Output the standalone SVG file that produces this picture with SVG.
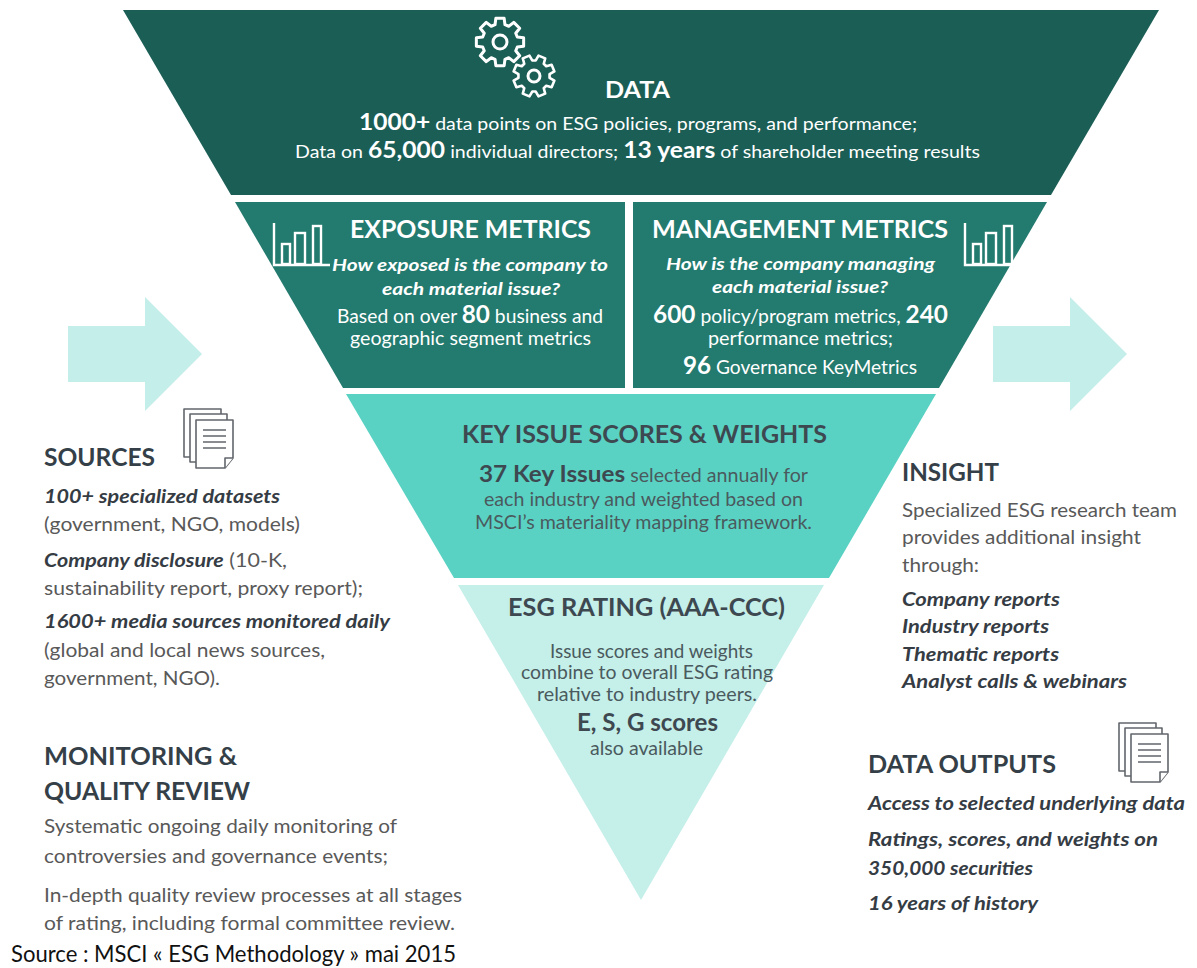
<svg xmlns="http://www.w3.org/2000/svg" xmlns:xlink="http://www.w3.org/1999/xlink" width="1197" height="968" viewBox="0 0 1197 968">
<style>
text{font-family:Lato,"Open Sans","Liberation Sans",sans-serif}
.w{fill:#ffffff}
.b{font-weight:700}
.bi{font-weight:700;font-style:italic}
.hd{font-weight:700;font-size:24px;fill:#353f48}
.bd{font-size:19.5px;fill:#595959}
.bx{font-size:19.5px;font-weight:700;font-style:italic;fill:#353c44}
.kt{fill:#3d4850}
.kb{fill:#4a5a5e;font-size:19px}
.ic{fill:none;stroke:#ffffff;stroke-width:2.4}
.pg{fill:#ffffff;stroke:#62666b;stroke-width:1.6;stroke-linejoin:round}
.pl{stroke:#62666b;stroke-width:1.6}
.arrow{fill:#c4eee9}
</style>
<defs>
<path id="gear" d="M17.30,-4.96 L23.64,-4.17 L23.64,4.17 L17.30,4.96 L15.74,8.73 L19.66,13.77 L13.77,19.66 L8.73,15.74 L4.96,17.30 L4.17,23.64 L-4.17,23.64 L-4.96,17.30 L-8.73,15.74 L-13.77,19.66 L-19.66,13.77 L-15.74,8.73 L-17.30,4.96 L-23.64,4.17 L-23.64,-4.17 L-17.30,-4.96 L-15.74,-8.73 L-19.66,-13.77 L-13.77,-19.66 L-8.73,-15.74 L-4.96,-17.30 L-4.17,-23.64 L4.17,-23.64 L4.96,-17.30 L8.73,-15.74 L13.77,-19.66 L19.66,-13.77 L15.74,-8.73 Z"/>
<g id="bars">
<path class="ic" d="M0,0 V42 H56"/>
<rect class="ic" x="8" y="21" width="8" height="20"/>
<rect class="ic" x="21" y="10" width="10" height="31"/>
<rect class="ic" x="39" y="3" width="8" height="38"/>
</g>
<g id="doc">
<rect class="pg" x="1" y="1" width="37" height="48"/>
<rect class="pg" x="7" y="6" width="37" height="48"/>
<path class="pg" d="M13,12 H50 V50 L42,60 H13 Z"/>
<path class="pg" d="M50,50 H42 V60"/>
<path class="pl" d="M20,22 H43 M20,28 H43 M20,34 H43 M20,40 H43"/>
</g>
</defs>
<rect width="1197" height="968" fill="#ffffff"/>

<g id="connectors">
<polygon class="arrow" points="68,326 145,326 145,297 202,354 145,411 145,382 68,382"/>
<polygon class="arrow" points="993,326 1070,326 1070,297 1127,354 1070,411 1070,382 993,382"/>
</g>

<g id="node-data">
<polygon points="123,10 1159,10 1051,195 231,195" fill="#1b5e55"/>
<g fill="none" stroke="#ffffff" stroke-width="3" stroke-linejoin="round">
<use xlink:href="#gear" href="#gear" transform="translate(500,42)"/>
<circle cx="500" cy="42" r="7"/>
<use xlink:href="#gear" href="#gear" transform="translate(534,76) rotate(22.5) scale(0.87)"/>
<circle cx="534" cy="76" r="6"/>
</g>
<text class="w b" x="605" y="98" font-size="22" textLength="65" lengthAdjust="spacingAndGlyphs">DATA</text>
<text class="w" x="359" y="130" font-size="17.5" textLength="558" lengthAdjust="spacingAndGlyphs"><tspan class="b" font-size="22">1000+</tspan> data points on ESG policies, programs, and performance;</text>
<text class="w" x="295" y="158" font-size="17.5" textLength="685" lengthAdjust="spacingAndGlyphs">Data on <tspan class="b" font-size="22">65,000</tspan> individual directors; <tspan class="b" font-size="22">13 years</tspan> of shareholder meeting results</text>
</g>

<g id="node-exposure">
<polygon points="235,202 625,202 625,388 343,388" fill="#237a6e"/>
<use xlink:href="#bars" href="#bars" x="274" y="223"/>
<text class="w b" x="350" y="238" font-size="24" textLength="241" lengthAdjust="spacingAndGlyphs">EXPOSURE METRICS</text>
<text class="w bi" x="332" y="271" font-size="17" textLength="276" lengthAdjust="spacingAndGlyphs">How exposed is the company to</text>
<text class="w bi" x="382" y="295" font-size="17" textLength="178" lengthAdjust="spacingAndGlyphs">each material issue?</text>
<text class="w" x="337" y="323" font-size="19" textLength="266" lengthAdjust="spacingAndGlyphs">Based on over <tspan class="b" font-size="24">80</tspan> business and</text>
<text class="w" x="350" y="345" font-size="19" textLength="241" lengthAdjust="spacingAndGlyphs">geographic segment metrics</text>
</g>

<g id="node-management">
<polygon points="633,202 1047,202 939,388 633,388" fill="#237a6e"/>
<use xlink:href="#bars" href="#bars" x="965" y="223"/>
<text class="w b" x="652" y="238" font-size="24" textLength="296" lengthAdjust="spacingAndGlyphs">MANAGEMENT METRICS</text>
<text class="w bi" x="666" y="270" font-size="17" textLength="269" lengthAdjust="spacingAndGlyphs">How is the company managing</text>
<text class="w bi" x="712" y="293" font-size="17" textLength="176" lengthAdjust="spacingAndGlyphs">each material issue?</text>
<text class="w" x="653" y="323" font-size="19" textLength="295" lengthAdjust="spacingAndGlyphs"><tspan class="b" font-size="24">600</tspan> policy/program metrics, <tspan class="b" font-size="24">240</tspan></text>
<text class="w" x="708" y="345" font-size="19" textLength="185" lengthAdjust="spacingAndGlyphs">performance metrics;</text>
<text class="w" x="683" y="374" font-size="19" textLength="234" lengthAdjust="spacingAndGlyphs"><tspan class="b" font-size="24">96</tspan> Governance KeyMetrics</text>
</g>

<g id="node-key-issues">
<polygon points="346,394 936,394 829,578 454,578" fill="#5ad2c3"/>
<text class="kt b" x="462" y="443" font-size="24.5" textLength="365" lengthAdjust="spacingAndGlyphs">KEY ISSUE SCORES &amp; WEIGHTS</text>
<text class="kb" x="479" y="482" textLength="329" lengthAdjust="spacingAndGlyphs"><tspan class="b kt" font-size="23.5">37 Key Issues</tspan> selected annually for</text>
<text class="kb" x="484" y="506" textLength="319" lengthAdjust="spacingAndGlyphs">each industry and weighted based on</text>
<text class="kb" x="475" y="529" textLength="337" lengthAdjust="spacingAndGlyphs">MSCI’s materiality mapping framework.</text>
</g>

<g id="node-esg-rating">
<polygon points="458,585 824,585 641,900" fill="#c5efe9"/>
<text class="kt b" x="508" y="616" font-size="24.5" textLength="277" lengthAdjust="spacingAndGlyphs">ESG RATING (AAA-CCC)</text>
<text class="kb" x="550" y="658" textLength="203" lengthAdjust="spacingAndGlyphs">Issue scores and weights</text>
<text class="kb" x="521" y="679" textLength="252" lengthAdjust="spacingAndGlyphs">combine to overall ESG rating</text>
<text class="kb" x="537" y="701" textLength="220" lengthAdjust="spacingAndGlyphs">relative to industry peers.</text>
<text class="kt b" x="577" y="731" font-size="24" textLength="141" lengthAdjust="spacingAndGlyphs">E, S, G scores</text>
<text class="kb" x="590" y="755" textLength="113" lengthAdjust="spacingAndGlyphs">also available</text>
</g>

<g id="node-sources">
<use xlink:href="#doc" href="#doc" x="183" y="408"/>
<text class="hd" x="44" y="466" textLength="111" lengthAdjust="spacingAndGlyphs">SOURCES</text>
<text class="bx" x="44" y="503" textLength="236" lengthAdjust="spacingAndGlyphs">100+ specialized datasets</text>
<text class="bd" x="44" y="531" textLength="256" lengthAdjust="spacingAndGlyphs">(government, NGO, models)</text>
<text class="bd" x="44" y="567" textLength="243" lengthAdjust="spacingAndGlyphs"><tspan class="bi" fill="#353c44">Company disclosure</tspan> (10-K,</text>
<text class="bd" x="44" y="595" textLength="319" lengthAdjust="spacingAndGlyphs">sustainability report, proxy report);</text>
<text class="bx" x="44" y="628" textLength="346" lengthAdjust="spacingAndGlyphs">1600+ media sources monitored daily</text>
<text class="bd" x="44" y="657" textLength="281" lengthAdjust="spacingAndGlyphs">(global and local news sources,</text>
<text class="bd" x="44" y="685" textLength="176" lengthAdjust="spacingAndGlyphs">government, NGO).</text>
</g>

<g id="node-monitoring">
<text class="hd" x="44" y="765" textLength="193" lengthAdjust="spacingAndGlyphs">MONITORING &amp;</text>
<text class="hd" x="44" y="800" textLength="206" lengthAdjust="spacingAndGlyphs">QUALITY REVIEW</text>
<text class="bd" x="44" y="833" textLength="353" lengthAdjust="spacingAndGlyphs">Systematic ongoing daily monitoring of</text>
<text class="bd" x="44" y="863" textLength="344" lengthAdjust="spacingAndGlyphs">controversies and governance events;</text>
<text class="bd" x="44" y="902" textLength="418" lengthAdjust="spacingAndGlyphs">In-depth quality review processes at all stages</text>
<text class="bd" x="44" y="930" textLength="411" lengthAdjust="spacingAndGlyphs">of rating, including formal committee review.</text>
</g>

<g id="node-insight">
<text class="hd" x="902" y="481" textLength="97" lengthAdjust="spacingAndGlyphs">INSIGHT</text>
<text class="bd" x="902" y="517" textLength="275" lengthAdjust="spacingAndGlyphs">Specialized ESG research team</text>
<text class="bd" x="902" y="544" textLength="239" lengthAdjust="spacingAndGlyphs">provides additional insight</text>
<text class="bd" x="902" y="572" textLength="77" lengthAdjust="spacingAndGlyphs">through:</text>
<text class="bx" x="902" y="606" textLength="158" lengthAdjust="spacingAndGlyphs">Company reports</text>
<text class="bx" x="902" y="633" textLength="147" lengthAdjust="spacingAndGlyphs">Industry reports</text>
<text class="bx" x="902" y="661" textLength="157" lengthAdjust="spacingAndGlyphs">Thematic reports</text>
<text class="bx" x="902" y="688" textLength="225" lengthAdjust="spacingAndGlyphs">Analyst calls &amp; webinars</text>
</g>

<g id="node-data-outputs">
<use xlink:href="#doc" href="#doc" x="1118" y="722"/>
<text class="hd" x="868" y="773" textLength="188" lengthAdjust="spacingAndGlyphs">DATA OUTPUTS</text>
<text class="bx" x="868" y="810" textLength="317" lengthAdjust="spacingAndGlyphs">Access to selected underlying data</text>
<text class="bx" x="868" y="846" textLength="290" lengthAdjust="spacingAndGlyphs">Ratings, scores, and weights on</text>
<text class="bx" x="868" y="875" textLength="165" lengthAdjust="spacingAndGlyphs">350,000 securities</text>
<text class="bx" x="868" y="910" textLength="170" lengthAdjust="spacingAndGlyphs">16 years of history</text>
</g>

<g id="caption">
<text x="11" y="962" font-size="22.5" fill="#111111" textLength="445" lengthAdjust="spacingAndGlyphs">Source : MSCI « ESG Methodology » mai 2015</text>
</g>
</svg>
